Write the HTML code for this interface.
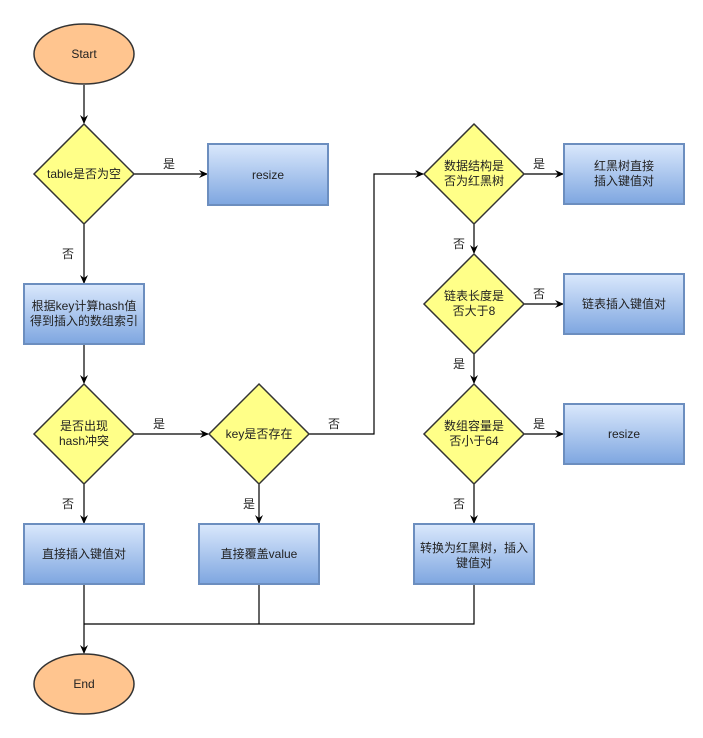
<!DOCTYPE html>
<html><head><meta charset="utf-8"><style>
body{margin:0;background:#fff}
svg text{font-family:"Liberation Sans","Noto Sans CJK SC",sans-serif;font-size:12px;fill:#222}
</style></head><body>
<svg width="703" height="733" viewBox="0 0 703 733" xmlns="http://www.w3.org/2000/svg">
<defs>
<linearGradient id="bg" x1="0" y1="0" x2="0" y2="1"><stop offset="0" stop-color="#dae8fc"/><stop offset="1" stop-color="#7ea6e0"/></linearGradient>
<marker id="a" markerWidth="10" markerHeight="10" refX="8" refY="5" orient="auto" markerUnits="userSpaceOnUse"><path d="M0,1 L9,5 L0,9 L3,5 Z" fill="#000"/></marker>
</defs>
<g fill="none" stroke="#000" stroke-width="1.2">
<line x1="84" y1="85" x2="84" y2="123" marker-end="url(#a)"/>
<line x1="134" y1="174" x2="207" y2="174" marker-end="url(#a)"/>
<line x1="84" y1="224" x2="84" y2="283" marker-end="url(#a)"/>
<line x1="84" y1="344" x2="84" y2="383" marker-end="url(#a)"/>
<line x1="134" y1="434" x2="208" y2="434" marker-end="url(#a)"/>
<line x1="84" y1="484" x2="84" y2="523" marker-end="url(#a)"/>
<line x1="259" y1="484" x2="259" y2="523" marker-end="url(#a)"/>
<polyline points="309,434 374,434 374,174 423,174" marker-end="url(#a)"/>
<line x1="524" y1="174" x2="563" y2="174" marker-end="url(#a)"/>
<line x1="474" y1="224" x2="474" y2="253" marker-end="url(#a)"/>
<line x1="524" y1="304" x2="563" y2="304" marker-end="url(#a)"/>
<line x1="474" y1="354" x2="474" y2="383" marker-end="url(#a)"/>
<line x1="524" y1="434" x2="563" y2="434" marker-end="url(#a)"/>
<line x1="474" y1="484" x2="474" y2="523" marker-end="url(#a)"/>
<polyline points="259,584 259,624"/>
<polyline points="474,584 474,624 84,624"/>
<line x1="84" y1="584" x2="84" y2="653" marker-end="url(#a)"/>
</g>
<g stroke="#6c8ebf" stroke-width="2" fill="url(#bg)">
<rect x="208" y="144" width="120" height="61"/>
<rect x="24" y="284" width="120" height="60"/>
<rect x="24" y="524" width="120" height="60"/>
<rect x="199" y="524" width="120" height="60"/>
<rect x="564" y="144" width="120" height="60"/>
<rect x="564" y="274" width="120" height="60"/>
<rect x="564" y="404" width="120" height="60"/>
<rect x="414" y="524" width="120" height="60"/>
</g>
<g stroke="#333" stroke-width="1.5" fill="#ffff88">
<polygon points="84,124 134,174 84,224 34,174"/>
<polygon points="84,384 134,434 84,484 34,434"/>
<polygon points="259,384 309,434 259,484 209,434"/>
<polygon points="474,124 524,174 474,224 424,174"/>
<polygon points="474,254 524,304 474,354 424,304"/>
<polygon points="474,384 524,434 474,484 424,434"/>
</g>
<g stroke="#333" stroke-width="1.5" fill="#ffc58f">
<ellipse cx="84" cy="54" rx="50" ry="30"/>
<ellipse cx="84" cy="684" rx="50" ry="30"/>
</g>
<g text-anchor="middle">
<text x="84" y="58">Start</text>
<text x="84" y="688">End</text>
<text x="84" y="178">table是否为空</text>
<text x="268" y="179">resize</text>
<text x="84" y="310">根据key计算hash值</text>
<text x="84" y="325">得到插入的数组索引</text>
<text x="84" y="430">是否出现</text>
<text x="84" y="445">hash冲突</text>
<text x="259" y="438">key是否存在</text>
<text x="84" y="558">直接插入键值对</text>
<text x="259" y="558">直接覆盖value</text>
<text x="474" y="170">数据结构是</text>
<text x="474" y="185">否为红黑树</text>
<text x="624" y="170">红黑树直接</text>
<text x="624" y="185">插入键值对</text>
<text x="474" y="300">链表长度是</text>
<text x="474" y="315">否大于8</text>
<text x="624" y="308">链表插入键值对</text>
<text x="474" y="430">数组容量是</text>
<text x="474" y="445">否小于64</text>
<text x="624" y="438">resize</text>
<text x="474" y="552">转换为红黑树，插入</text>
<text x="474" y="567">键值对</text>
<text x="169" y="168">是</text>
<text x="68" y="258">否</text>
<text x="159" y="428">是</text>
<text x="334" y="428">否</text>
<text x="249" y="508">是</text>
<text x="68" y="508">否</text>
<text x="539" y="168">是</text>
<text x="459" y="248">否</text>
<text x="539" y="298">否</text>
<text x="459" y="368">是</text>
<text x="539" y="428">是</text>
<text x="459" y="508">否</text>
</g>
</svg>
</body></html>
